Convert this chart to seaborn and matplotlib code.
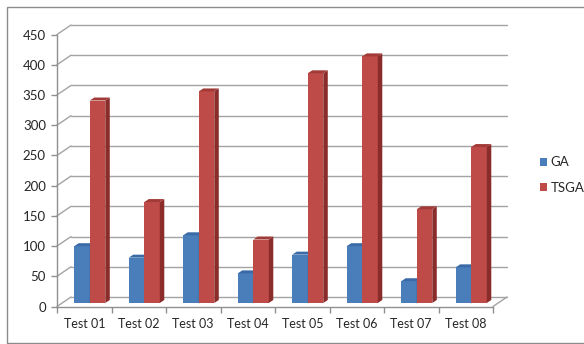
import matplotlib
matplotlib.use("Agg")
import matplotlib.pyplot as plt
import matplotlib.transforms as mtrans
from matplotlib.patches import Polygon, Rectangle, Patch
import numpy as np
import pandas as pd
import seaborn as sns

# ---- data -------------------------------------------------------------
categories = ["Test 01", "Test 02", "Test 03", "Test 04",
              "Test 05", "Test 06", "Test 07", "Test 08"]
series_names = ["GA", "TSGA"]
ga_values = [94, 75, 112, 49, 80, 94, 36, 59]
tsga_values = [335, 167, 350, 105, 380, 408, 155, 258]
y_ticks = [0, 50, 100, 150, 200, 250, 300, 350, 400, 450]

df = pd.DataFrame({
    "test": categories * 2,
    "algorithm": [series_names[0]] * len(categories) + [series_names[1]] * len(categories),
    "value": ga_values + tsga_values,
})

# ---- style ------------------------------------------------------------
sns.set_theme(style="white")
plt.rcParams["font.family"] = ["Lato", "DejaVu Sans"]

W, H = 584, 344
fig = plt.figure(figsize=(W / 100, H / 100), dpi=100)
ax = fig.add_axes([57 / W, 37.5 / H, 436 / W, 272 / H])

front = {"GA": "#4A7EBB", "TSGA": "#BF4B48"}
side = {"GA": "#2F5B91", "TSGA": "#8A2C2A"}
top = {"GA": "#3B6BA6", "TSGA": "#A23B38"}
grid_col = "#a3a3a3"
axis_col = "#8f8f8f"
text_col = "#262626"

sns.barplot(data=df, x="test", y="value", hue="algorithm", hue_order=series_names,
            palette=front, width=0.57, saturation=1, legend=False, ax=ax,
            linewidth=0)
ax.set_xlim(-0.5, len(categories) - 0.5)
ax.set_ylim(0, y_ticks[-1])
ax.set_xlabel("")
ax.set_ylabel("")

# offsets (pixels) for the pseudo-3D depth
bar_off = (5.5, 3.5)      # bar plane behind the front edge
wall_off = (14.0, 9.5)    # back wall
depth = np.array([4.5, 3.0])  # visible depth of each column

# back-wall gridlines
wall_tr = mtrans.offset_copy(ax.transData, fig, x=wall_off[0], y=wall_off[1], units="dots")
for v in y_ticks:
    ax.plot([-0.5, len(categories) - 0.5], [v, v], transform=wall_tr,
            color=grid_col, lw=1.0, zorder=0.5, clip_on=False)

# side-wall diagonals and right floor edge
ident = mtrans.IdentityTransform()
for v in y_ticks:
    a = ax.transData.transform((-0.5, v))
    ax.add_line(plt.Line2D([a[0], a[0] + wall_off[0]], [a[1], a[1] + wall_off[1]],
                           transform=ident, color=grid_col, lw=1.0, zorder=0.5, clip_on=False))
a = ax.transData.transform((len(categories) - 0.5, 0))
ax.add_line(plt.Line2D([a[0], a[0] + wall_off[0]], [a[1], a[1] + wall_off[1]],
                       transform=ident, color=grid_col, lw=1.0, zorder=0.5, clip_on=False))

# columns: shift front faces into the bar plane, add side and top faces
bar_tr = mtrans.offset_copy(ax.transData, fig, x=bar_off[0], y=bar_off[1], units="dots")
bars = list(ax.patches)
n = len(categories)
for i, bar in enumerate(bars):
    name = series_names[i // n]
    z = 2 + i // n
    bar.set_transform(bar_tr)
    bar.set_zorder(z)
    bar.set_clip_on(False)
    x0, w, h = bar.get_x(), bar.get_width(), bar.get_height()
    pts = ax.transData.transform([(x0, 0), (x0 + w, 0), (x0 + w, h), (x0, h)]) + np.array(bar_off)
    bl, br, tr_, tl = pts
    side_poly = Polygon([br, br + depth, tr_ + depth, tr_], closed=True, transform=ident,
                        facecolor=side[name], edgecolor="none", zorder=z + 0.1, clip_on=False)
    top_poly = Polygon([tl, tr_, tr_ + depth, tl + depth], closed=True, transform=ident,
                       facecolor=top[name], edgecolor="none", zorder=z + 0.1, clip_on=False)
    ax.add_patch(side_poly)
    ax.add_patch(top_poly)

# axes, ticks and labels
sns.despine(ax=ax)
for s in ("left", "bottom"):
    ax.spines[s].set_color(axis_col)
    ax.spines[s].set_linewidth(1.0)
ax.set_yticks(y_ticks)
ax.set_xticks(np.arange(-0.5, len(categories), 1.0), minor=True)
ax.tick_params(axis="y", which="major", direction="out", length=4, width=1,
               color=axis_col, labelsize=9.5, labelcolor=text_col, pad=4, left=True)
ax.tick_params(axis="x", which="major", length=0, labelsize=9, labelcolor=text_col, pad=8)
ax.tick_params(axis="x", which="minor", direction="out", length=4, width=1,
               color=axis_col, bottom=True)

# legend
handles = [Patch(facecolor=front[s], edgecolor="none", label=s) for s in series_names]
fig.legend(handles=handles, loc="center left", bbox_to_anchor=(528 / W, 1 - 175 / H),
           frameon=False, handlelength=0.55, handleheight=0.55, handletextpad=0.25,
           labelspacing=1.0, fontsize=9.5, labelcolor=text_col)

# outer chart frame
fig.add_artist(Rectangle((6.5 / W, 1.5 / H), 600 / W, 336 / H, fill=False,
                         edgecolor="#8c8c8c", lw=1.0, transform=fig.transFigure))

fig.savefig("out.png", dpi=100)
